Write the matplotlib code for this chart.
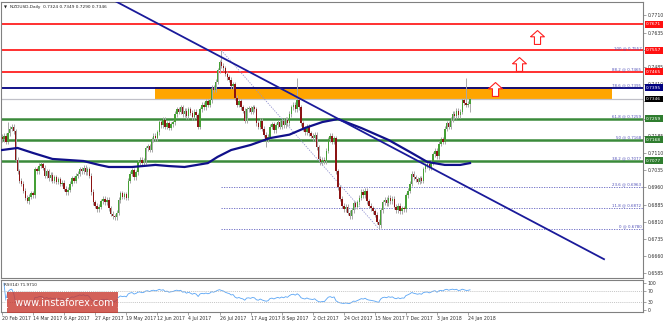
import numpy as np
import pandas as pd
import matplotlib
matplotlib.use('Agg')
import matplotlib.pyplot as plt
from matplotlib.path import Path
from matplotlib.patches import Rectangle
import matplotlib.transforms as mtransforms

W, H = 663, 322

# daily closes, 20 Feb 2017 .. 26 Jan 2018
closes = [
    0.7170, 0.7185, 0.7160, 0.7195, 0.7215, 0.7225, 0.7205, 0.7080, 0.7030, 0.6990,
    0.6975, 0.6945, 0.6915, 0.6900, 0.6920, 0.6935, 0.6925, 0.7040, 0.7030, 0.7055,
    0.7060, 0.7045, 0.7010, 0.7030, 0.7000, 0.7015, 0.6990, 0.7005, 0.6985, 0.6995,
    0.6975, 0.6980, 0.6955, 0.6940, 0.6950, 0.6975, 0.7000, 0.6990, 0.7010, 0.7020,
    0.7040, 0.7030, 0.7045, 0.7025, 0.7040, 0.7010, 0.6940, 0.6895, 0.6880, 0.6865,
    0.6875, 0.6900, 0.6910, 0.6895, 0.6905, 0.6870, 0.6845, 0.6835, 0.6830, 0.6850,
    0.6905, 0.6935, 0.6920, 0.6930, 0.6915, 0.6990, 0.7020, 0.7035, 0.7005, 0.7025,
    0.7070, 0.7080, 0.7065, 0.7075, 0.7130, 0.7140, 0.7125, 0.7170, 0.7185, 0.7175,
    0.7200, 0.7245, 0.7230, 0.7255, 0.7225, 0.7240, 0.7220, 0.7235, 0.7245, 0.7280,
    0.7300, 0.7290, 0.7310, 0.7280, 0.7295, 0.7270, 0.7300, 0.7285, 0.7265, 0.7290,
    0.7275, 0.7225, 0.7300, 0.7320, 0.7310, 0.7335, 0.7320, 0.7340, 0.7395, 0.7385,
    0.7420, 0.7470, 0.7505, 0.7490, 0.7480, 0.7455, 0.7440, 0.7430, 0.7400, 0.7410,
    0.7350, 0.7320, 0.7335, 0.7310, 0.7295, 0.7250, 0.7300, 0.7305, 0.7290, 0.7310,
    0.7300, 0.7240, 0.7225, 0.7250, 0.7215, 0.7190, 0.7170, 0.7180, 0.7225, 0.7235,
    0.7210, 0.7230, 0.7245, 0.7225, 0.7250, 0.7230, 0.7255, 0.7240, 0.7280, 0.7310,
    0.7320, 0.7300, 0.7340, 0.7310, 0.7240, 0.7215, 0.7200, 0.7225, 0.7195, 0.7185,
    0.7175, 0.7190, 0.7135, 0.7085, 0.7070, 0.7080, 0.7075, 0.7120, 0.7170, 0.7185,
    0.7160, 0.7175, 0.7030, 0.6960, 0.6910, 0.6880, 0.6865, 0.6875, 0.6850, 0.6835,
    0.6860, 0.6890, 0.6875, 0.6895, 0.6915, 0.6940, 0.6925, 0.6945, 0.6900, 0.6880,
    0.6870, 0.6855, 0.6840, 0.6810, 0.6795, 0.6860, 0.6895, 0.6905, 0.6890, 0.6915,
    0.6900, 0.6910, 0.6875, 0.6860, 0.6880, 0.6855, 0.6870, 0.6865, 0.6925, 0.6945,
    0.6975, 0.7020, 0.7005, 0.6995, 0.6985, 0.7000, 0.6990, 0.7040, 0.7055, 0.7060,
    0.7045, 0.7070, 0.7105, 0.7120, 0.7095, 0.7150, 0.7170, 0.7160, 0.7215, 0.7240,
    0.7225, 0.7255, 0.7280, 0.7270, 0.7295, 0.7275, 0.7290, 0.7340, 0.7330, 0.7320,
    0.7324, 0.7346,
]
first_open = 0.7180
wick = 0.0011
spike_highs = {3: 0.7245, 113: 0.7557, 152: 0.7436, 239: 0.7437, 241: 0.7349}
spike_lows = {13: 0.6890, 58: 0.6820, 136: 0.7136, 194: 0.6780, 241: 0.7290}

# moving average (blue curve), bar index / value
ma_bars = [0, 8, 16, 26, 42, 50, 55, 67, 79, 86, 94, 106, 111, 118, 128, 138,
           148, 156, 165, 173, 185, 199, 211, 219, 228, 236, 241]
ma_vals = [0.7123, 0.7132, 0.7110, 0.7084, 0.7075, 0.7058, 0.7049, 0.7049, 0.7058,
           0.7053, 0.7049, 0.7066, 0.7093, 0.7123, 0.7145, 0.7175, 0.7190, 0.7219,
           0.7245, 0.7258, 0.7219, 0.7167, 0.7110, 0.7071, 0.7058, 0.7058, 0.7066]

trend_x = [55, 310]
trend_y = [0.7787, 0.6647]

date_labels = ['20 Feb 2017', '14 Mar 2017', '6 Apr 2017', '27 Apr 2017', '19 May 2017',
               '12 Jun 2017', '4 Jul 2017', '26 Jul 2017', '17 Aug 2017', '8 Sep 2017',
               '2 Oct 2017', '24 Oct 2017', '15 Nov 2017', '7 Dec 2017', '3 Jan 2018',
               '24 Jan 2018']
label_step = 16

price_ticks = [0.6585, 0.6660, 0.6735, 0.6810, 0.6885, 0.6960, 0.7035, 0.7110,
               0.7185, 0.7260, 0.7335, 0.7410, 0.7485, 0.7560, 0.7635, 0.7710]
hidden_ticks = [0.7260, 0.7335, 0.7560]   # covered by the level boxes

red_levels = [0.7671, 0.7557, 0.7465]
green_levels = [0.7259, 0.7168, 0.7077]
resistance = 0.7395
last_price = 0.7346
zone_low, zone_high = 0.7345, 0.7398
zone_x = [79, 314]

fib_pcts = ['100', '88.2', '78.6', '61.8', '50', '38.2', '23.6', '11.8', '0']
fib_prices = [0.7557, 0.7465, 0.7395, 0.7259, 0.7168, 0.7077, 0.6963, 0.6872, 0.6780]
fib_start, fib_end = 113, 194

arrow_x = [254, 266, 275.5]
arrow_y = [0.7389, 0.7498, 0.7616]

# ---------------------------------------------------------------------------
n = len(closes)
x = np.arange(n)
c = np.array(closes)
o = np.concatenate([[first_open], c[:-1]])
hi = np.maximum(o, c) + wick
lo = np.minimum(o, c) - wick
for k, v in spike_highs.items():
    hi[k] = v
for k, v in spike_lows.items():
    lo[k] = v

s = pd.Series(closes)
d = s.diff()
up = d.clip(lower=0).ewm(alpha=1/14, adjust=True).mean()
dn = (-d.clip(upper=0)).ewm(alpha=1/14, adjust=True).mean()
rsi = 100 - 100/(1 + up/dn)

fig = plt.figure(figsize=(W/100, H/100), dpi=100)
px_per_bar = 1.942
xl = (-1/px_per_bar, 641/px_per_bar)

ax = fig.add_axes([1/W, 1-278/H, 642/W, 276/H])
ar = fig.add_axes([1/W, 1-312/H, 642/W, 32/H])

for a in (ax, ar):
    a.set_xlim(*xl)
    for sp in a.spines.values():
        sp.set_color('#808080')
        sp.set_linewidth(0.8)
    a.yaxis.tick_right()
    a.tick_params(axis='y', labelsize=3.3, length=2, width=0.5, colors='#808080',
                  labelcolor='#303030', pad=1.2)

ax.set_ylim(0.65650, 0.77683)
ax.set_yticks(price_ticks)
ax.set_yticklabels(['' if t in hidden_ticks else '%.4f' % t for t in price_ticks])
ax.set_xticks([])

# zone and horizontal levels
ax.fill_between(zone_x, zone_low, zone_high, color='#ffa500', lw=0, zorder=0.5)
for lv in red_levels:
    ax.axhline(lv, color='#ff2020', lw=1.3, zorder=1)
for lv in green_levels:
    ax.axhline(lv, color='#3a8a3a', lw=1.8, zorder=1)
ax.axhline(resistance, color='#000080', lw=1.3, zorder=1.2)
ax.axhline(last_price, color='#c0c0c8', lw=0.9, zorder=1)

for p in fib_prices[6:]:
    ax.plot([fib_start, xl[1]], [p, p], color='#6060c0', lw=0.6, ls=(0, (1.5, 1.5)), zorder=1)
ax.plot([fib_start, fib_end], [fib_prices[0], fib_prices[-1]], color='#9090d0', lw=0.6,
        ls=(0, (1.5, 1.5)), zorder=1)

# candles
ax.vlines(x, lo, hi, color='#a8a8a8', lw=0.7, zorder=2)
upc = c >= o
ax.bar(x[upc], (c - o)[upc], bottom=o[upc], width=0.75, color='#45a035', lw=0, zorder=2.2)
ax.bar(x[~upc], (o - c)[~upc], bottom=c[~upc], width=0.75, color='#8b1414', lw=0, zorder=2.2)

ax.plot(ma_bars, ma_vals, color='#10108a', lw=1.6, zorder=3)
ax.plot(trend_x, trend_y, color='#1a1a9a', lw=1.3, zorder=3)

# hollow up arrows
arrow = Path([(-0.5, 0.05), (0, 0.5), (0.5, 0.05), (0.22, 0.05), (0.22, -0.5),
              (-0.22, -0.5), (-0.22, 0.05), (-0.5, 0.05)])
ax.plot(arrow_x, arrow_y, ls='none', marker=arrow, ms=10, mfc='white', mec='#ff2020',
        mew=0.8, zorder=4)

# fib labels and price boxes
for pct, p in zip(fib_pcts, fib_prices):
    ax.text(xl[1] - 0.8, p + 0.0002, '%s @ %.4f' % (pct, p), ha='right', va='bottom',
            fontsize=2.9, color='#5050b8', zorder=5)

trans = mtransforms.blended_transform_factory(ax.transAxes, ax.transData)
boxes = [(lv, '#ff1010') for lv in red_levels] + [(resistance, '#000080'), (last_price, '#000000')] \
    + [(lv, '#2f7d2f') for lv in green_levels]
for lv, col in boxes:
    ax.text(1.005, lv, '%.4f' % lv, transform=trans, ha='left', va='center', fontsize=3.2,
            color='white', clip_on=False, zorder=10,
            bbox=dict(boxstyle='square,pad=0.3', fc=col, ec='none'))

ax.text(0.004, 0.987, '\u25bc', transform=ax.transAxes, fontsize=2.8, va='top', color='#202020')
ax.text(0.014, 0.990, 'NZDUSD,Daily  0.7324 0.7349 0.7290 0.7346', transform=ax.transAxes,
        fontsize=3.1, va='top', color='#202020')

# RSI panel
ar.plot(x, rsi, color='#5aa5f5', lw=0.6)
ar.axhline(70, color='#b0b0b0', lw=0.5, ls=(0, (1.5, 1.5)))
ar.axhline(30, color='#b0b0b0', lw=0.5, ls=(0, (1.5, 1.5)))
ar.set_ylim(-8, 112)
ar.set_yticks([0, 30, 70, 100])
ar.set_yticklabels(['0', '30', '70', '100'])
ar.set_xticks([label_step*k for k in range(len(date_labels))])
ar.set_xticklabels(date_labels, ha='left')
ar.tick_params(axis='x', labelsize=3.3, length=2, width=0.5, colors='#808080',
               labelcolor='#303030', pad=1)
ar.text(0.004, 0.92, 'RSI(14) 71.9710', transform=ar.transAxes, fontsize=3.0, va='top',
        color='#202020')

# watermark
fig.patches.append(Rectangle((7/W, 1-313/H), 111/W, 21/H, transform=fig.transFigure,
                             fc='#c83a30', ec='none', alpha=0.8, zorder=20))
fig.text(62.5/W, 1-302.5/H, '[  www.instaforex.com ]', ha='center', va='center',
         fontsize=7.0, color='white', zorder=21)

fig.savefig('out.png', dpi=100)
